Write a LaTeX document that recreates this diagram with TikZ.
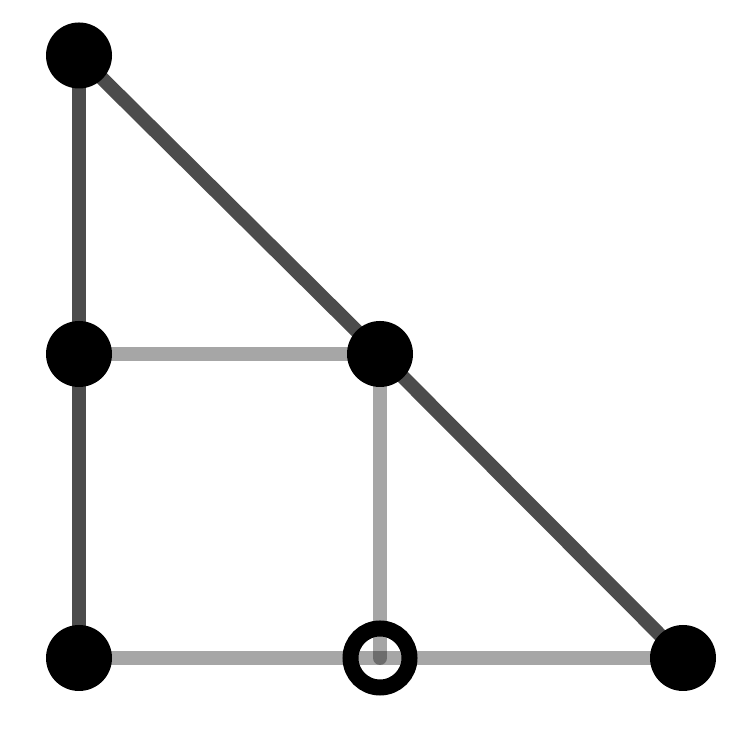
\documentclass[tikz,border=0pt]{standalone}
\usepackage{tikz}
\usetikzlibrary{positioning,calc}
\pgfdeclarelayer{bg}
\pgfsetlayers{bg,main}
\tikzstyle{nod}= [circle, fill=black, inner sep=0pt, minimum size=1.32cm]
\tikzstyle{hole}= [circle, draw=black, line width=0.32cm, fill=none, inner sep=0pt, minimum size=1.18cm]
\tikzstyle{dark}= [draw=black!70, line width=0.28cm, line cap=round]
\tikzstyle{light}= [draw=black, opacity=0.35, line width=0.28cm, line cap=round]

\begin{document}
\begin{tikzpicture}
						\useasboundingbox (0,0) rectangle (15.04,14.82);
						\node[nod] (v1) at (1.58, 13.71) {};
						\node[nod] (v2) at (1.58, 7.74) {};
						\node[nod] (v3) at (7.60, 7.74) {};
						\node[nod] (v4) at (1.58, 1.66) {};
						\node[hole] (v5) at (7.60, 1.66) {};
						\node[nod] (v6) at (13.66, 1.66) {};
						\begin{pgfonlayer}{bg}
						\draw[dark](v1.center) -- (v2.center);
						\draw[dark](v2.center) -- (v4.center);
						\draw[dark](v1.center) -- (v3.center);
						\draw[dark](v3.center) -- (v6.center);
						\draw[light](v2.center) -- (v3.center);
						\draw[light](v3.center) -- (v5.center);
						\draw[light](v4.center) -- (v6.center);
						\end{pgfonlayer}
					\end{tikzpicture}
\end{document}
